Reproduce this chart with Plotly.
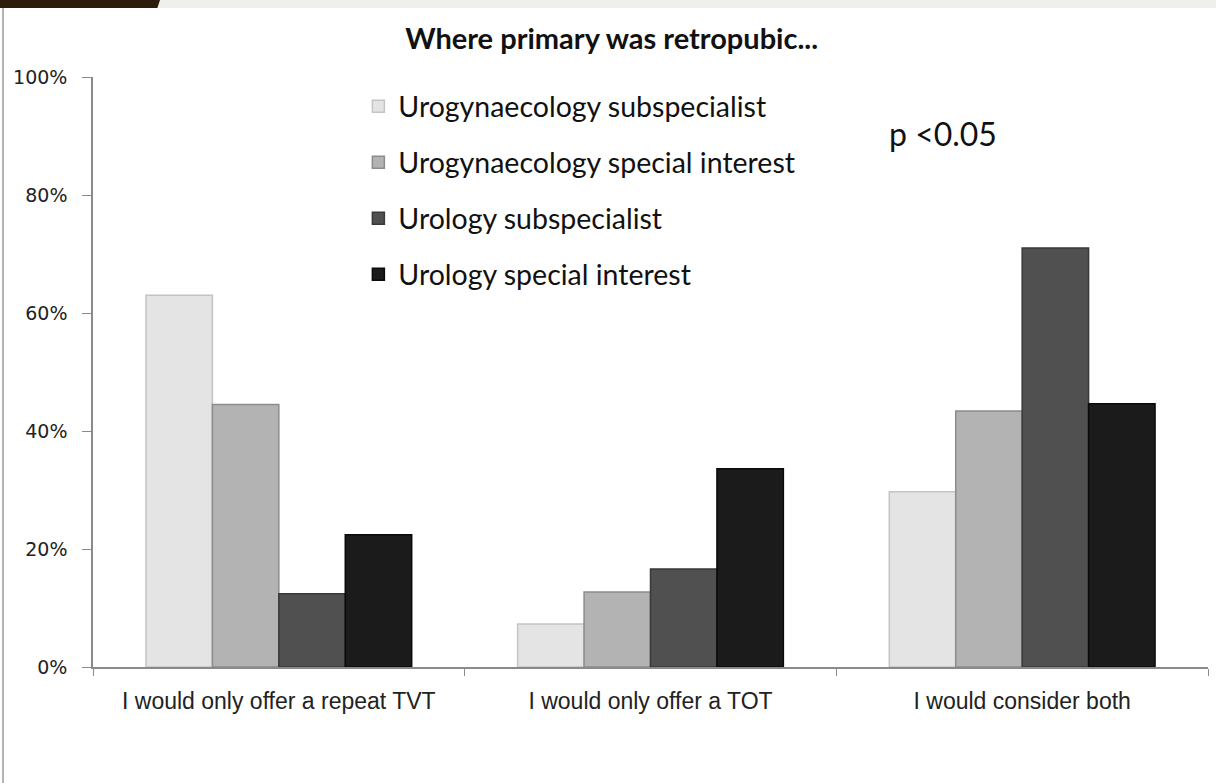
import plotly.graph_objects as go

# Survey responses: preferred repeat procedure where the primary sling was retropubic
categories = ["I would only offer a repeat TVT", "I would only offer a TOT", "I would consider both"]
groups = [
    "Urogynaecology subspecialist",
    "Urogynaecology special interest",
    "Urology subspecialist",
    "Urology special interest",
]
# share of respondents per category, one list per group
uro_gyn_sub = [0.63, 0.073, 0.297]
uro_gyn_int = [0.445, 0.127, 0.434]
urol_sub = [0.124, 0.166, 0.71]
urol_int = [0.224, 0.336, 0.446]
series = [uro_gyn_sub, uro_gyn_int, urol_sub, urol_int]

fills = ["#e4e4e4", "#b3b3b3", "#505050", "#1b1b1b"]
edges = ["#c4c4c4", "#8c8c8c", "#393939", "#0a0a0a"]

fig = go.Figure()
for name, vals, fc, ec in zip(groups, series, fills, edges):
    fig.add_trace(go.Bar(
        x=categories, y=vals, name=name, legendgroup=name,
        marker=dict(color=fc, line=dict(color=ec, width=1.5)),
    ))

fig.update_layout(
    width=1216, height=783,
    paper_bgcolor="white", plot_bgcolor="white",
    margin=dict(l=93, r=8, t=77, b=116),
    barmode="group", bargap=0.285, bargroupgap=0,
    title=dict(text="<b>Where primary was retropubic...</b>", x=0.503, xanchor="center",
               y=0.951, yanchor="middle",
               font=dict(family="Lato", size=29, color="#111")),
    legend=dict(x=0.238, y=0.993, xanchor="left", yanchor="top",
                font=dict(family="Lato", size=28.5, color="#111"),
                bgcolor="rgba(0,0,0,0)", tracegroupgap=16,
                itemwidth=30),
    showlegend=True,
)

fig.update_yaxes(
    range=[0, 1], tickformat=".0%", tickvals=[0, 0.2, 0.4, 0.6, 0.8, 1.0],
    showgrid=False, zeroline=False,
    showline=True, linecolor="#8a8a8a", linewidth=1.5,
    ticks="outside", ticklen=9, tickcolor="#8a8a8a", ticklabelstandoff=11,
    tickfont=dict(family="DejaVu Sans", size=19, color="#222"),
)
fig.update_xaxes(
    showgrid=False, showline=True, linecolor="#8a8a8a", linewidth=1.5,
    ticks="outside", ticklen=7, tickcolor="#8a8a8a", tickson="boundaries",
    ticklabelstandoff=13,
    tickfont=dict(family="Liberation Sans", size=23, color="#222"),
)

fig.add_annotation(text="p <0.05", xref="paper", yref="paper", x=0.712, y=0.905,
                   xanchor="left", yanchor="middle", showarrow=False,
                   font=dict(family="Lato", size=32, color="#111"))

# page frame: grey top strip, dark tab at the left, thin left rule
fig.add_shape(type="rect", xref="paper", yref="paper", x0=-0.1, x1=1.01,
              y0=1.117, y1=1.132, fillcolor="#efefec", line_width=0, layer="above")
fig.add_shape(type="path", xref="paper", yref="paper",
              path="M -0.0834 1.132 L 0.0604 1.132 L 0.0577 1.117 L -0.0834 1.117 Z",
              fillcolor="#2b1e0c", line_width=0, layer="above")
fig.add_shape(type="line", xref="paper", yref="paper", x0=-0.0807, x1=-0.0807,
              y0=-0.2, y1=1.117, line=dict(color="#9a9a9a", width=1.5))

fig.write_html("out.html")
